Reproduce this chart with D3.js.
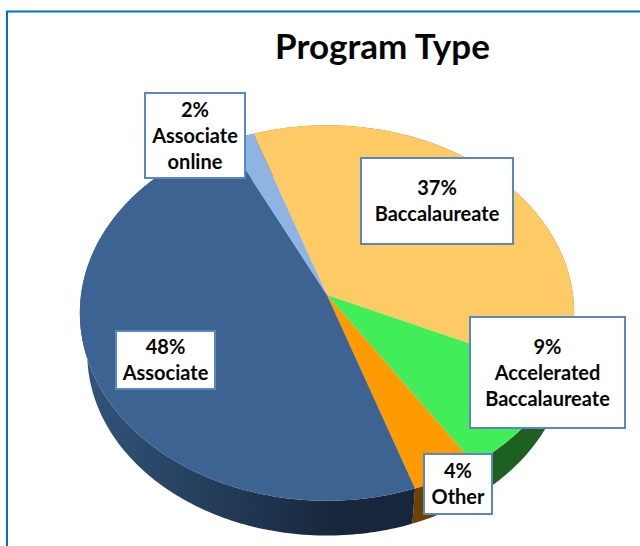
<!DOCTYPE html>
<html>
<head>
<meta charset="utf-8">
<script src="https://cdnjs.cloudflare.com/ajax/libs/d3/7.8.5/d3.min.js"></script>
<style>
    html, body { margin: 0; padding: 0; background: #fff; }
    svg { display: block; }
    text { font-family: Lato, "Open Sans", sans-serif; font-weight: 700; fill: #050505; }
</style>
</head>
<body>
<div id="chart"></div>
<script>
// clockwise from the yellow slice
const categories = ['Baccalaureate', 'Accelerated Baccalaureate', 'Other', 'Associate', 'Associate online'];
const values = [37, 9, 4, 48, 2];
const labelLines = [['Baccalaureate'], ['Accelerated', 'Baccalaureate'], ['Other'], ['Associate'], ['Associate', 'online']];
const topColors = ['#fdca65', '#41ed58', '#ff9a00', '#3c6391', '#8fb4e3'];
const wallColors = ['#8a6c30', '#1e5f22', '#6b4200', 'url(#navyWall)', '#4a6488'];

const width = 640, height = 546;

// label boxes: left, top, right, bottom, in the same order as categories
const boxes = [
    [361, 158, 513, 244],
    [470, 317, 625, 428],
    [424, 454, 492, 514],
    [116, 331, 215, 389],
    [145, 93, 245, 178]
];

const svg = d3.select('#chart').append('svg')
    .attr('width', width)
    .attr('height', height);

const defs = svg.append('defs');
const navyWall = defs.append('linearGradient')
    .attr('id', 'navyWall')
    .attr('gradientUnits', 'userSpaceOnUse')
    .attr('x1', 85).attr('x2', 340).attr('y1', 0).attr('y2', 0);
navyWall.append('stop').attr('offset', '0%').attr('stop-color', '#325479');
navyWall.append('stop').attr('offset', '100%').attr('stop-color', '#17263b');

// outer frame runs off the right and bottom of the image
svg.append('rect')
    .attr('x', 7).attr('y', 11.5)
    .attr('width', 700).attr('height', 600)
    .attr('fill', 'none')
    .attr('stroke', '#0070c0')
    .attr('stroke-width', 2);

svg.append('text')
    .attr('x', 382.5).attr('y', 59)
    .attr('text-anchor', 'middle')
    .style('font-size', '35px')
    .text('Program Type');

const pie = d3.pie().sort(null)
    .startAngle(-19 * Math.PI / 180)
    .endAngle(341 * Math.PI / 180);
const slices = pie(values);

// tilted disc: unit circle seen in perspective, apex is not the ellipse centre
const cx = 327, cy = 295, rx = 246, ry = 186, tilt = -0.096;
function project(angle, scale, drop) {
    const u = Math.sin(angle), v = -Math.cos(angle);
    const d = 1 + tilt * v;
    return [cx + scale * rx * u / d, cy + drop + scale * ry * v / d];
}
const line = d3.line();

function rim(s, scale, drop) {
    const n = Math.max(2, Math.ceil((s.endAngle - s.startAngle) * 60));
    return d3.range(n + 1).map(i => project(s.startAngle + (s.endAngle - s.startAngle) * i / n, scale, drop));
}

const wallScale = 0.97, wallDrop = 41;

svg.append('g').selectAll('path')
    .data(slices)
    .enter().append('path')
    .attr('d', d => line(rim(d, 1, 0).concat(rim(d, wallScale, wallDrop).reverse())) + 'Z')
    .attr('fill', (d, i) => wallColors[i]);

svg.append('g').selectAll('path')
    .data(slices)
    .enter().append('path')
    .attr('d', d => line([[cx, cy]].concat(rim(d, 1, 0))) + 'Z')
    .attr('fill', (d, i) => topColors[i]);

const lineHeight = 26;
const label = svg.append('g').selectAll('g')
    .data(categories)
    .enter().append('g');

label.append('rect')
    .attr('x', (d, i) => boxes[i][0])
    .attr('y', (d, i) => boxes[i][1])
    .attr('width', (d, i) => boxes[i][2] - boxes[i][0])
    .attr('height', (d, i) => boxes[i][3] - boxes[i][1])
    .attr('fill', '#fff')
    .attr('stroke', '#5b87c0')
    .attr('stroke-width', 2);

label.each(function (d, i) {
    const lines = [values[i] + '%'].concat(labelLines[i]);
    const mid = (boxes[i][1] + boxes[i][3]) / 2;
    d3.select(this).selectAll('text')
        .data(lines)
        .enter().append('text')
        .attr('x', (boxes[i][0] + boxes[i][2]) / 2)
        .attr('y', (t, j) => mid + (j - (lines.length - 1) / 2) * lineHeight + 7)
        .attr('text-anchor', 'middle')
        .style('font-size', '20px')
        .text(t => t);
});
</script>
</body>
</html>
